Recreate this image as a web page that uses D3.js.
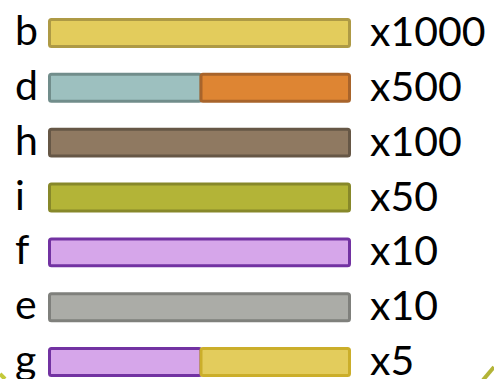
<!DOCTYPE html>
<html>
<head>
<meta charset="utf-8">
<script src="https://cdn.jsdelivr.net/npm/d3@7"></script>
<style>
  html, body { margin: 0; padding: 0; background: #ffffff; }
  svg { display: block; }
  text { font-family: Lato, "Open Sans", sans-serif; fill: #000; }
</style>
</head>
<body>
<svg id="chart" width="494" height="379"></svg>
<script>
// ---- data ----
const categories = ["b", "d", "h", "i", "f", "e", "g"];
const multipliers = ["x1000", "x500", "x100", "x50", "x10", "x10", "x5"];
// each bar is split into segments (fractions of the full bar length)
const segmentStarts = [[0], [0, 0.5], [0], [0], [0], [0], [0, 0.5]];
const segmentEnds   = [[1], [0.5, 1], [1], [1], [1], [1], [0.5, 1]];
const segmentFills  = [
  ["#E3CC5C"],
  ["#9DC0BF", "#DE8533"],
  ["#8F7961"],
  ["#B3B437"],
  ["#D6A6EA"],
  ["#ABACA7"],
  ["#D6A6EA", "#E3CC5C"]
];
const segmentStrokes = [
  ["#AE9A45"],
  ["#718D8B", "#A8642B"],
  ["#665746"],
  ["#87882A"],
  ["#7232A2"],
  ["#7F807C"],
  ["#7232A2", "#CBAE2A"]
];

// ---- layout ----
const svg = d3.select("#chart");
const W = 494, H = 379;

const y = d3.scaleBand()
  .domain(categories)
  .range([18, 377])
  .paddingInner(0.4545)
  .paddingOuter(0);

const x = d3.scaleLinear().domain([0, 1]).range([48, 351]);

const rows = categories.map((c, i) => ({
  cat: c,
  mult: multipliers[i],
  segs: segmentStarts[i].map((s, j) => ({
    s, e: segmentEnds[i][j], fill: segmentFills[i][j], stroke: segmentStrokes[i][j]
  }))
}));

const g = svg.selectAll("g.row").data(rows).enter().append("g").attr("class", "row");

g.selectAll("rect").data(d => d.segs.map(s => Object.assign({cat: d.cat}, s)))
  .enter().append("rect")
  .attr("x", d => x(d.s) + 1.5)
  .attr("y", d => y(d.cat) + 1.5)
  .attr("width", d => x(d.e) - x(d.s) - (d.e < 1 ? 0 : 3))
  .attr("height", y.bandwidth() - 3)
  .attr("rx", 2)
  .attr("fill", d => d.fill)
  .attr("stroke", d => d.stroke)
  .attr("stroke-width", 3);

g.append("text")
  .attr("x", 15)
  .attr("y", d => y(d.cat) + y.bandwidth() / 2 + 12)
  .attr("font-size", 41)
  .text(d => d.cat);

g.append("text")
  .attr("x", 370)
  .attr("y", d => y(d.cat) + y.bandwidth() / 2 + 13)
  .attr("font-size", 41)
  .text(d => d.mult);

// decorative corner strokes
svg.append("path").attr("d", `M0,374 L5,${H}`).attr("stroke", "#C3C93A").attr("stroke-width", 4).attr("fill", "none");
svg.append("path").attr("d", `M483,${H + 1} L${W},367`).attr("stroke", "#B3B437").attr("stroke-width", 4).attr("fill", "none");
</script>
</body>
</html>
